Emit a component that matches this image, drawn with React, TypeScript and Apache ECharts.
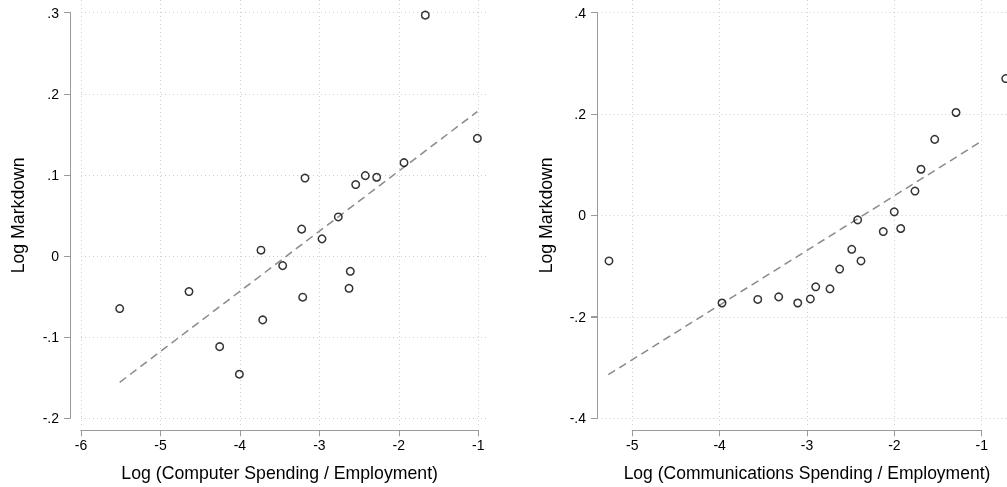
import React, { useEffect, useRef } from "react";
import * as echarts from "echarts";

// Left panel: computer spending
const compX = [-1.667, -1.012, -1.935, -2.279, -2.422, -2.543, -3.181, -2.762, -3.223, -2.967, -3.735, -3.462, -2.611, -2.627, -3.21, -4.641, -5.513, -3.713, -4.255, -4.007];
const compY = [0.297, 0.145, 0.115, 0.097, 0.099, 0.088, 0.096, 0.048, 0.033, 0.021, 0.007, -0.012, -0.019, -0.04, -0.051, -0.044, -0.065, -0.079, -0.112, -0.146];
const compFitX = [-5.513, -1.012];
const compFitY = [-0.156, 0.178];

// Right panel: communications spending
const commX = [-0.725, -1.294, -1.538, -1.695, -1.764, -2.001, -1.927, -2.127, -2.42, -2.488, -2.382, -2.626, -2.9, -2.737, -2.962, -3.106, -3.324, -3.564, -3.973, -5.267];
const commY = [0.27, 0.203, 0.15, 0.091, 0.048, 0.007, -0.026, -0.032, -0.009, -0.067, -0.09, -0.106, -0.141, -0.145, -0.165, -0.173, -0.161, -0.166, -0.173, -0.09];
const commFitX = [-5.267, -0.725];
const commFitY = [-0.314, 0.145];

// Tick labels
const leftXTicks = [-6, -5, -4, -3, -2, -1];
const leftXLabels = ["-6", "-5", "-4", "-3", "-2", "-1"];
const leftYTicks = [-0.2, -0.1, 0, 0.1, 0.2, 0.3];
const leftYLabels = ["-.2", "-.1", "0", ".1", ".2", ".3"];
const rightXTicks = [-5, -4, -3, -2, -1];
const rightXLabels = ["-5", "-4", "-3", "-2", "-1"];
const rightYTicks = [-0.4, -0.2, 0, 0.2, 0.4];
const rightYLabels = ["-.4", "-.2", "0", ".2", ".4"];

const yTitle = "Log Markdown";
const leftXTitle = "Log (Computer Spending / Employment)";
const rightXTitle = "Log (Communications Spending / Employment)";

const FONT = "'Liberation Sans', Arial, Helvetica, sans-serif";
const AXIS_COLOR = "#9a9a9a";
const GRID_COLOR = "#cfcfcf";

function lookup(ticks: number[], labels: string[]) {
  return (v: number) => {
    const i = ticks.findIndex((t) => Math.abs(t - v) < 1e-6);
    return i >= 0 ? labels[i] : "";
  };
}

function zip(xs: number[], ys: number[]) {
  return xs.map((x, i) => [x, ys[i]]);
}

export default function App() {
  const ref = useRef<HTMLDivElement>(null);
  useEffect(() => {
    if (!ref.current) return;
    const chart = echarts.init(ref.current, null, { renderer: "svg" });

    const lineAxis = (gi: number, min: number, max: number, interval: number, offset: number) => ({
      type: "value",
      gridIndex: gi,
      min,
      max,
      interval,
      offset,
      axisLine: { show: true, onZero: false, lineStyle: { color: AXIS_COLOR, width: 1 } },
      axisTick: { show: true, length: 6, lineStyle: { color: AXIS_COLOR, width: 1 } },
      axisLabel: { show: false },
      splitLine: { show: false },
    });
    const mainX = (gi: number, min: number, max: number, ticks: number[], labels: string[], title: string, titleSize: number) => ({
      type: "value",
      gridIndex: gi,
      min,
      max,
      interval: 1,
      offset: 12,
      axisLine: { show: true, onZero: false, lineStyle: { color: AXIS_COLOR, width: 1 } },
      axisTick: { show: true, length: 6, lineStyle: { color: AXIS_COLOR, width: 1 } },
      axisLabel: { color: "#000", fontSize: 14, fontFamily: FONT, margin: 8, formatter: lookup(ticks, labels) },
      splitLine: { show: false },
      name: title,
      nameLocation: "middle",
      nameGap: 34,
      nameTextStyle: { color: "#000", fontSize: titleSize, fontFamily: FONT },
    });
    const mainY = (gi: number, min: number, max: number, interval: number, offset: number, ticks: number[], labels: string[], gap: number) => ({
      type: "value",
      gridIndex: gi,
      min,
      max,
      interval,
      offset,
      axisLine: { show: true, onZero: false, lineStyle: { color: AXIS_COLOR, width: 1 } },
      axisTick: { show: true, length: 6, lineStyle: { color: AXIS_COLOR, width: 1 } },
      axisLabel: { color: "#000", fontSize: 14, fontFamily: FONT, margin: 11, formatter: lookup(ticks, labels) },
      splitLine: { show: false },
      name: yTitle,
      nameLocation: "middle",
      nameGap: gap,
      nameTextStyle: { color: "#000", fontSize: 17.7, fontFamily: FONT },
    });
    const gridAxis = (gi: number, min: number, max: number, interval: number, split: boolean) => ({
      type: "value",
      gridIndex: gi,
      min,
      max,
      interval,
      axisLine: { show: false },
      axisTick: { show: false },
      axisLabel: { show: false },
      splitLine: split
        ? { show: true, lineStyle: { color: GRID_COLOR, type: [1, 3], width: 1 } }
        : { show: false },
    });

    const scatter = (xi: number, xs: number[], ys: number[]) => ({
      type: "scatter",
      xAxisIndex: xi,
      yAxisIndex: xi,
      data: zip(xs, ys),
      symbol: "circle",
      symbolSize: 7.5,
      clip: false,
      itemStyle: { color: "rgba(0,0,0,0)", borderColor: "#000", borderWidth: 1.5 },
      z: 5,
    });
    const fit = (xi: number, xs: number[], ys: number[]) => ({
      type: "line",
      xAxisIndex: xi,
      yAxisIndex: xi,
      data: zip(xs, ys),
      showSymbol: false,
      symbol: "none",
      clip: false,
      lineStyle: { color: "#8a8a8a", width: 1.5, type: [8, 5] },
      z: 4,
    });

    chart.setOption({
      animation: false,
      grid: [
        // 0: left main (x -6..-1, y -.2...3)
        { left: 81, top: 12.7, width: 397.3, height: 405.6 },
        // 1: right main (x -5..-1, y -.4...4)
        { left: 632.3, top: 12.7, width: 349.4, height: 405.6 },
        // 2: left vertical gridlines
        { left: 81, top: 0, width: 397.3, height: 427 },
        // 3: left horizontal gridlines (x -6..-0.875)
        { left: 81, top: 12.7, width: 407.2, height: 405.6 },
        // 4: right vertical gridlines
        { left: 632.3, top: 0, width: 349.4, height: 427 },
        // 5: right horizontal gridlines + fit line (x -5.4..-0.4)
        { left: 597.36, top: 12.7, width: 436.71, height: 405.6 },
        // 6: left axis lines
        { left: 81, top: 12.7, width: 397.3, height: 405.6 },
        // 7: right axis lines
        { left: 632.3, top: 12.7, width: 349.4, height: 405.6 },
      ],
      xAxis: [
        mainX(0, -6, -1, leftXTicks, leftXLabels, leftXTitle, 17.7),
        mainX(1, -5, -1, rightXTicks, rightXLabels, rightXTitle, 17.5),
        gridAxis(2, -6, -1, 1, true),
        gridAxis(3, -6, -0.875, 1, false),
        gridAxis(4, -5, -1, 1, true),
        gridAxis(5, -5.4, -0.4, 1, false),
        lineAxis(6, -6, -1, 1, 12),
        lineAxis(7, -5, -1, 1, 12),
      ],
      yAxis: [
        mainY(0, -0.2, 0.3, 0.1, 11, leftYTicks, leftYLabels, 43),
        mainY(1, -0.4, 0.4, 0.2, 35.3, rightYTicks, rightYLabels, 42),
        gridAxis(2, 0, 1, 1, false),
        gridAxis(3, -0.2, 0.3, 0.1, true),
        gridAxis(4, 0, 1, 1, false),
        gridAxis(5, -0.4, 0.4, 0.2, true),
        lineAxis(6, -0.2, 0.3, 0.1, 11),
        lineAxis(7, -0.4, 0.4, 0.2, 35.3),
      ],
      series: [
        fit(0, compFitX, compFitY),
        scatter(0, compX, compY),
        fit(5, commFitX, commFitY),
        scatter(1, commX, commY),
      ],
    });
    return () => chart.dispose();
  }, []);

  return <div ref={ref} style={{ position: "fixed", left: 0, top: 0, width: 1007, height: 487 }} />;
}
